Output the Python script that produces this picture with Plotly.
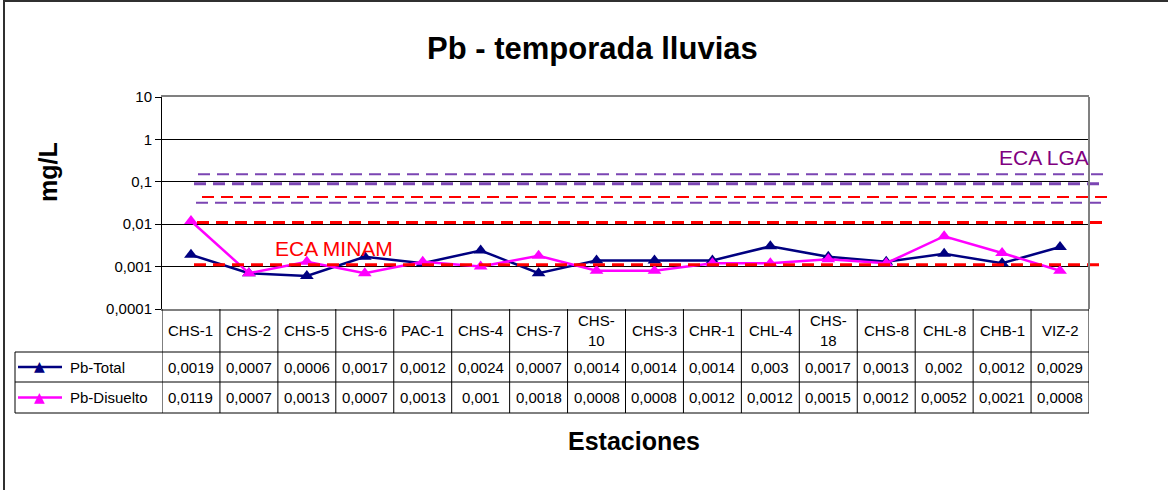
import plotly.graph_objects as go

estaciones = ["CHS-1", "CHS-2", "CHS-5", "CHS-6", "PAC-1", "CHS-4", "CHS-7", "CHS-10",
              "CHS-3", "CHR-1", "CHL-4", "CHS-18", "CHS-8", "CHL-8", "CHB-1", "VIZ-2"]
etiquetas = ["CHS-1", "CHS-2", "CHS-5", "CHS-6", "PAC-1", "CHS-4", "CHS-7", "CHS-<br>10",
             "CHS-3", "CHR-1", "CHL-4", "CHS-<br>18", "CHS-8", "CHL-8", "CHB-1", "VIZ-2"]
pb_total = [0.0019, 0.0007, 0.0006, 0.0017, 0.0012, 0.0024, 0.0007, 0.0014,
            0.0014, 0.0014, 0.003, 0.0017, 0.0013, 0.002, 0.0012, 0.0029]
pb_disuelto = [0.0119, 0.0007, 0.0013, 0.0007, 0.0013, 0.001, 0.0018, 0.0008,
               0.0008, 0.0012, 0.0012, 0.0015, 0.0012, 0.0052, 0.0021, 0.0008]
eca_lga = [0.15, 0.09, 0.032]
eca_minam = [0.044, 0.011, 0.0011]
ticks_y = [10, 1, 0.1, 0.01, 0.001, 0.0001]
ticks_txt = ["10", "1", "0,1", "0,01", "0,001", "0,0001"]

FONT = "Arial, Liberation Sans, sans-serif"
W, H = 1168, 490
L, R, T, B = 162, 1089, 97, 309
PW, PH = R - L, B - T


def fx(p):
    return (p - L) / PW


def fy(p):
    return (B - p) / PH


def coma(v):
    return str(v).replace(".", ",")


def texto(t, x, y, size=15, color="black", bold=False, xref="paper", **kw):
    f = dict(size=size, family=FONT, color=color)
    if bold:
        f["weight"] = "bold"
    return dict(text=t, xref=xref, yref="paper", x=x, y=y, showarrow=False,
                xanchor=kw.pop("xanchor", "center"), yanchor="middle", font=f, **kw)


fig = go.Figure()
fig.add_trace(go.Scatter(x=estaciones, y=pb_total, name="Pb-Total", mode="lines+markers",
                         line=dict(color="#000080", width=2.5),
                         marker=dict(symbol="triangle-up", size=12, color="#000080")))
fig.add_trace(go.Scatter(x=estaciones, y=pb_disuelto, name="Pb-Disuelto", mode="lines+markers",
                         line=dict(color="#FF00FF", width=2.5),
                         marker=dict(symbol="triangle-up", size=12, color="#FF00FF")))

shapes = []
# lineas de referencia (dibujadas a mano en el original)
morado = "#7B45B3"
for v, w, x0, x1 in zip(eca_lga, [2, 3, 2], [198, 194, 196], [1105, 1100, 1103]):
    shapes.append(dict(type="line", xref="paper", yref="y", x0=fx(x0), x1=fx(x1), y0=v, y1=v,
                       line=dict(color=morado, width=w, dash="12px,7px"), layer="above"))
for v, w, x0, x1 in zip(eca_minam, [2, 3, 3], [202, 197, 194], [1109, 1107, 1101]):
    shapes.append(dict(type="line", xref="paper", yref="y", x0=fx(x0), x1=fx(x1), y0=v, y1=v,
                       line=dict(color="#FF0000", width=w, dash="12px,7px"), layer="above"))

# borde derecho del area de trazado
shapes.append(dict(type="line", xref="paper", yref="paper", x0=1, x1=1, y0=0, y1=1,
                   line=dict(color="#808080", width=2)))

# tabla de datos
filas = [352, 382, 413]
for i in range(len(estaciones) + 1):
    shapes.append(dict(type="line", xref="x", yref="paper", x0=i - 0.5, x1=i - 0.5,
                       y0=fy(B), y1=fy(filas[-1]), line=dict(color="black", width=1)))
for yy in filas:
    shapes.append(dict(type="line", xref="paper", yref="paper", x0=fx(15), x1=1,
                       y0=fy(yy), y1=fy(yy), line=dict(color="black", width=1)))
shapes.append(dict(type="line", xref="paper", yref="paper", x0=fx(15), x1=fx(15),
                   y0=fy(filas[0]), y1=fy(filas[-1]), line=dict(color="black", width=1)))
# leyenda dentro de la tabla
for (y0, y1), col in zip([(filas[0], filas[1]), (filas[1], filas[2])], ["#000080", "#FF00FF"]):
    ym = (y0 + y1) / 2
    shapes.append(dict(type="line", xref="paper", yref="paper", x0=fx(18), x1=fx(62),
                       y0=fy(ym), y1=fy(ym), line=dict(color=col, width=2.5)))

# borde exterior del grafico
shapes.append(dict(type="rect", xref="paper", yref="paper", x0=fx(4), x1=fx(1200),
                   y0=fy(1), y1=fy(520), line=dict(color="#303030", width=2)))

ann = [
    texto("Pb - temporada lluvias", fx(592), fy(48), size=31, bold=True),
    texto("mg/L", fx(48), fy(172), size=25, bold=True, textangle=-90),
    texto("Estaciones", fx(634), fy(441), size=25, bold=True),
    texto("ECA MINAM", fx(334), fy(248), size=21, color="#FF0000"),
    texto("ECA LGA", fx(1044), fy(157), size=21, color="#800080"),
]

for est, lab, a, b in zip(estaciones, etiquetas, pb_total, pb_disuelto):
    ann.append(texto(lab, est, fy((B + filas[0]) / 2), xref="x"))
    ann.append(texto(coma(a), est, fy((filas[0] + filas[1]) / 2), xref="x"))
    ann.append(texto(coma(b), est, fy((filas[1] + filas[2]) / 2), xref="x"))

for (y0, y1), nombre, col in zip([(filas[0], filas[1]), (filas[1], filas[2])],
                                 ["Pb-Total", "Pb-Disuelto"], ["#000080", "#FF00FF"]):
    ym = (y0 + y1) / 2
    ann.append(dict(text="▲", xref="paper", yref="paper", x=fx(40), y=fy(ym - 1),
                    xanchor="center", yanchor="middle", showarrow=False,
                    font=dict(size=14, family="DejaVu Sans", color=col)))
    ann.append(texto(nombre, fx(68), fy(ym), xanchor="left"))

fig.update_layout(
    width=W, height=H,
    margin=dict(l=L, r=W - R, t=T, b=H - B),
    paper_bgcolor="white", plot_bgcolor="white",
    showlegend=False,
    font=dict(family=FONT, size=15, color="black"),
    shapes=shapes, annotations=ann,
    xaxis=dict(type="category", range=[-0.5, len(estaciones) - 0.5], showticklabels=False,
               showgrid=False, zeroline=False, showline=True, mirror=True,
               linecolor="#808080", linewidth=2, ticks=""),
    yaxis=dict(type="log", range=[-4, 1], tickvals=ticks_y, ticktext=ticks_txt,
               showgrid=True, gridcolor="black", gridwidth=1, zeroline=False,
               showline=True, linecolor="black", linewidth=1,
               ticks="outside", ticklen=6, tickcolor="black",
               tickfont=dict(size=15, family=FONT, color="black")),
)

fig.write_html("out.html", config={"displayModeBar": False},
               post_script="document.body.style.margin='0';")
